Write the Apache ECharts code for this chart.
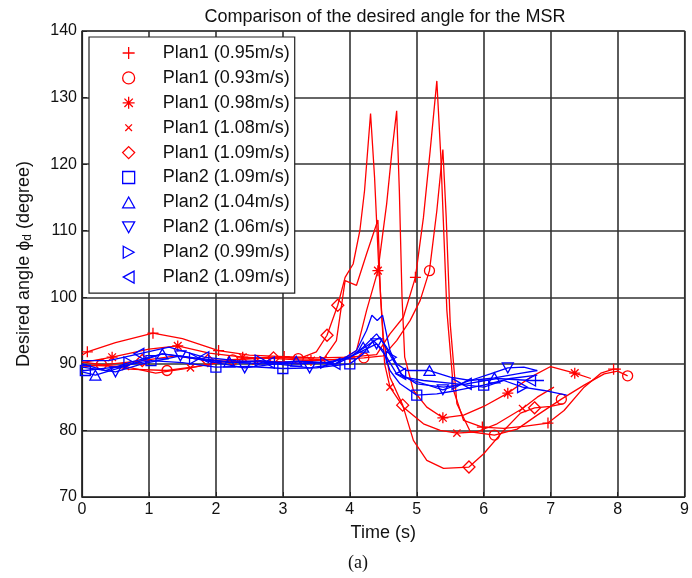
<!DOCTYPE html>
<html><head><meta charset="utf-8">
<script src="https://cdn.jsdelivr.net/npm/echarts/dist/echarts.min.js"></script>
<style>html,body{margin:0;padding:0;background:#fff}#c{width:692px;height:578px}</style>
</head><body><div id="c"></div>
<script>
// ---- data ----
const seriesNames = ['Plan1 (0.95m/s)','Plan1 (0.93m/s)','Plan1 (0.98m/s)','Plan1 (1.08m/s)','Plan1 (1.09m/s)',
                     'Plan2 (1.09m/s)','Plan2 (1.04m/s)','Plan2 (1.06m/s)','Plan2 (0.99m/s)','Plan2 (1.09m/s) '];

const p1a_t = [0,0.08,0.5,1.06,1.5,2.04,2.5,3.02,3.5,4.0,4.4,4.6,4.8,4.98,5.1,5.2,5.3,5.36,5.45,5.55,5.7,5.98,6.3,6.6,6.96,7.2,7.5,7.75,7.94,8.05];
const p1a_y = [91.3,91.8,93.2,94.6,93.8,92.0,91.3,91.1,90.9,91.0,91.4,94.5,97.0,103.0,112,122,132.5,121,98,86,81.5,80.5,80.3,80.6,81.1,83.0,86.5,88.6,89.2,89.2];
const p1a_m = [0.08,1.06,2.04,3.02,4.0,4.98,5.98,6.96,7.94];

const p1b_t = [0,0.29,0.7,1.27,1.7,2.25,2.8,3.23,3.7,4.21,4.5,4.7,4.9,5.05,5.19,5.3,5.39,5.44,5.5,5.6,5.8,6.16,6.5,6.8,7.16,7.5,7.8,8.0,8.15];
const p1b_y = [90.3,89.9,89.2,89.0,89.6,90.6,91.0,90.8,90.6,90.9,91.2,93.5,96.5,99.5,104,113,122.2,112,96,84,79.8,79.3,80.2,82.3,84.7,86.8,88.5,88.9,88.2];
const p1b_m = [0.29,1.27,2.25,3.23,4.21,5.19,6.16,7.16,8.15];

const p1c_t = [0,0.45,1.0,1.43,1.9,2.4,2.9,3.42,3.9,4.1,4.25,4.42,4.55,4.63,4.70,4.74,4.78,4.82,4.95,5.15,5.39,5.7,6.0,6.36,6.7,7.0,7.36,7.6];
const p1c_y = [90.2,91.0,92.2,92.7,91.6,91.0,90.8,90.5,90.7,92.0,98.0,104.0,114,122,128,116,100,91,86,83.5,81.9,82.3,83.6,85.6,88.0,89.6,88.6,87.8];
const p1c_m = [0.45,1.43,2.4,3.42,4.42,5.39,6.36,7.36];

const p1d_t = [0,0.65,1.1,1.62,2.1,2.6,3.1,3.6,3.8,3.93,4.1,4.25,4.42,4.46,4.52,4.6,4.8,5.1,5.35,5.6,5.9,6.2,6.58,6.8,7.05];
const p1d_y = [89.8,89.6,88.6,89.4,90.3,90.4,90.3,90.6,93.5,102.5,101.8,106.5,111.6,100,90,86.5,83.5,81,80,79.6,79.8,81.0,83.3,85.0,86.5];
const p1d_m = [0.65,1.62,2.6,3.6,4.6,5.6,6.58];

const p1e_t = [0,0.9,1.4,1.88,2.4,2.86,3.3,3.5,3.66,3.82,3.93,4.05,4.15,4.22,4.31,4.37,4.43,4.5,4.6,4.79,4.95,5.15,5.4,5.78,6.0,6.3,6.55,6.76,7.0,7.18];
const p1e_y = [89.5,90.5,91.2,90.5,90.7,90.9,91.0,91.8,94.3,98.8,103.0,105,110,116,127.6,118,105,94,88,83.8,78.5,75.5,74.3,74.5,76.5,80.0,82.6,83.4,83.6,84.0];
const p1e_m = [0.9,1.88,2.86,3.66,3.82,4.79,5.78,6.76];

const p2a_t = [0,0.05,0.5,1.03,1.5,2.0,2.5,3.0,3.5,4.0,4.2,4.35,4.5,4.6,4.75,5.0,5.3,5.6,6.0,6.4,6.8];
const p2a_y = [89.0,89.0,89.5,90.5,90.2,89.5,89.6,89.3,89.4,90.0,91.5,93.5,92.0,89.0,87.0,85.3,85.5,86.0,86.8,87.8,88.3];
const p2a_m = [0.05,1.03,2.0,3.0,4.0,5.0,6.0];

const p2b_t = [0,0.2,0.6,1.2,1.6,2.2,2.7,3.2,3.7,4.0,4.2,4.4,4.55,4.7,4.85,5.19,5.5,5.8,6.16,6.5,6.8];
const p2b_y = [88.8,88.3,89.5,91.5,91.0,90.3,90.0,90.4,90.2,91.0,92.5,94.5,92.5,90.0,89.0,89.0,88.0,87.5,87.9,88.5,89.0];
const p2b_m = [0.2,1.2,2.2,3.2,4.2,5.19,6.16];

const p2c_t = [0,0.5,0.9,1.47,2.0,2.43,2.9,3.4,3.8,4.1,4.4,4.55,4.7,4.95,5.39,5.8,6.1,6.36,6.6,6.8];
const p2c_y = [89.5,88.8,90.0,91.2,90.2,89.4,90.0,89.4,90.0,91.5,93.0,91.0,88.5,87.5,86.1,87.5,88.5,89.4,89.5,89.0];
const p2c_m = [0.5,1.47,2.43,3.4,4.4,5.39,6.36];

const p2d_t = [0,0.35,0.7,1.2,1.68,2.2,2.66,3.2,3.64,4.0,4.3,4.45,4.62,4.8,5.1,5.6,6.0,6.3,6.58,6.9,7.24];
const p2d_y = [90.0,89.0,90.2,91.5,90.8,90.2,90.5,90.0,90.2,91.0,93.0,94.0,91.0,88.0,87.5,87.0,86.5,87.5,86.5,86.0,85.3];
const p2d_m = [0.7,1.68,2.66,3.64,4.62,5.6,6.58];

const p2e_t = [0,0.4,0.85,1.3,1.82,2.3,2.8,3.3,3.78,4.1,4.25,4.33,4.41,4.49,4.6,4.76,5.0,5.4,5.74,6.2,6.7,6.9];
const p2e_y = [90.5,90.5,91.5,92.5,91.0,90.5,90.2,90.3,90.0,92.0,95.0,97.3,96.5,97.3,92.0,88.5,87.0,86.5,87.0,87.8,87.5,87.5];
const p2e_m = [0.85,1.82,2.8,3.78,4.76,5.74,6.7];

const xTicks = [0,1,2,3,4,5,6,7,8,9];
const yTicks = [70,80,90,100,110,120,130,140];

// ---- styles ----
const RED = '#ff0000', BLUE = '#0000ff';
const SYM = {
  plus: 'path://M0,5L10,5M5,0L5,10',
  circle: 'circle',
  star: 'path://M0,5L10,5M5,0L5,10M1.5,1.5L8.5,8.5M8.5,1.5L1.5,8.5',
  cross: 'path://M-4,-4M0,0L10,10M10,0L0,10M14,14',
  diamond: 'path://M5,0L10,5L5,10L0,5Z',
  square: 'path://M0,0L10,0L10,10L0,10Z',
  tup: 'path://M5,0L10,9L0,9Z',
  tdown: 'path://M0,0L10,0L5,9Z',
  tright: 'path://M0,0L9,5L0,10Z',
  tleft: 'path://M9,0L0,5L9,10Z'
};
const defs = [
  [p1a_t,p1a_y,p1a_m,RED,SYM.plus,11],
  [p1b_t,p1b_y,p1b_m,RED,SYM.circle,10],
  [p1c_t,p1c_y,p1c_m,RED,SYM.star,11],
  [p1d_t,p1d_y,p1d_m,RED,SYM.cross,13],
  [p1e_t,p1e_y,p1e_m,RED,SYM.diamond,12],
  [p2a_t,p2a_y,p2a_m,BLUE,SYM.square,10],
  [p2b_t,p2b_y,p2b_m,BLUE,SYM.tup,11],
  [p2c_t,p2c_y,p2c_m,BLUE,SYM.tdown,11],
  [p2d_t,p2d_y,p2d_m,BLUE,SYM.tright,11],
  [p2e_t,p2e_y,p2e_m,BLUE,SYM.tleft,11]
];

const series = defs.map((d,i)=>{
  const [t,y,m,col,sym,sz] = d;
  const data = t.map((tv,k)=> m.indexOf(tv) >= 0 ? {value:[tv,y[k]]} : {value:[tv,y[k]], symbol:'none'});
  return {
    name: seriesNames[i], type:'line', data, symbol: sym, symbolSize: sz, showSymbol:true,
    symbolKeepAspect:true,
    lineStyle:{color:col, width:1.3},
    itemStyle:{color:'rgba(0,0,0,0)', borderColor:col, borderWidth:1.3},
    emphasis:{disabled:true}, z: 3 + i*0.01, animation:false
  };
});

const legendData = defs.map((d,i)=>({
  name: seriesNames[i], icon: d[4],
  itemStyle:{color:'rgba(0,0,0,0)', borderColor:d[3], borderWidth:1.3}
}));

const chart = echarts.init(document.getElementById('c'), null, {renderer:'canvas'});
chart.setOption({
  animation:false,
  backgroundColor:'#fff',
  title:[
    {text:'Comparison of the desired angle for the MSR', left:380, top:3, textAlign:'center',
     textStyle:{fontFamily:'Liberation Sans', fontSize:18, fontWeight:'normal', color:'#111'}},
    {text:'(a)', left:353, top:549, textAlign:'center',
     textStyle:{fontFamily:'Liberation Serif', fontSize:18, fontWeight:'normal', color:'#111'}}
  ],
  grid:{left:82, right:7, top:31, bottom:81, show:true, borderColor:'#222', borderWidth:1.2, backgroundColor:'#fff'},
  legend:{
    orient:'vertical', left:89, top:37, data:legendData,
    itemWidth:12, itemHeight:12, itemGap:4.9,
    padding:[6,0,6,33],
    backgroundColor:'#fff', borderColor:'#222', borderWidth:1.2,
    textStyle:{fontFamily:'Liberation Sans', fontSize:18, lineHeight:20, color:'#111', padding:[0,0,0,23]},
    selectedMode:false
  },
  xAxis:{
    type:'value', min:xTicks[0], max:xTicks[xTicks.length-1], interval:1,
    name:'Time (s)', nameLocation:'middle', nameGap:27,
    nameTextStyle:{fontFamily:'Liberation Sans', fontSize:18, color:'#111'},
    axisLine:{show:true, onZero:false, lineStyle:{color:'#222', width:1.2}},
    axisTick:{inside:true, length:5, lineStyle:{color:'#222'}},
    axisLabel:{fontFamily:'Liberation Sans', fontSize:16, color:'#111', margin:5},
    splitLine:{show:true, lineStyle:{color:'#333', width:1.6}}
  },
  yAxis:{
    type:'value', min:yTicks[0], max:yTicks[yTicks.length-1], interval:10,
    name:'Desired angle ϕ{sub|d} (degree)', nameLocation:'middle', nameGap:48,
    nameTextStyle:{fontFamily:'Liberation Sans', fontSize:18, color:'#111',
      rich:{sub:{fontFamily:'Liberation Sans', fontSize:12, color:'#111', padding:[8,0,0,0]}}},
    axisLine:{show:true, lineStyle:{color:'#222', width:1.2}},
    axisTick:{inside:true, length:5, lineStyle:{color:'#222'}},
    axisLabel:{fontFamily:'Liberation Sans', fontSize:16, color:'#111', margin:5},
    splitLine:{show:true, lineStyle:{color:'#333', width:1.6}}
  },
  series
});
</script></body></html>
